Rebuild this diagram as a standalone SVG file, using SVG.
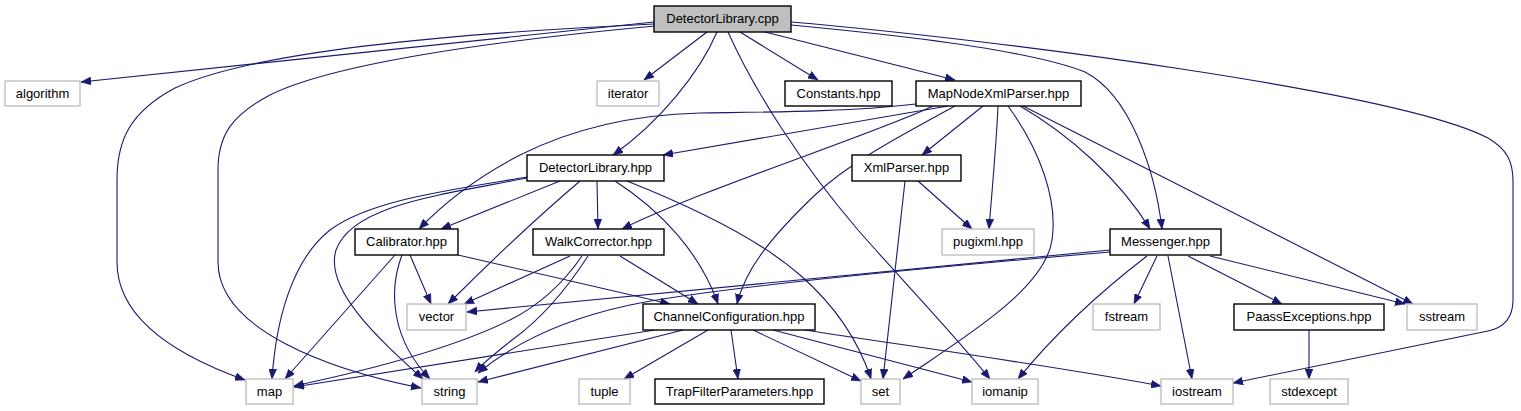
<svg xmlns="http://www.w3.org/2000/svg" width="1521" height="411" viewBox="0 0 1521 411">
<defs>
<marker id="ah" markerWidth="10" markerHeight="8" refX="10" refY="4" orient="auto" markerUnits="userSpaceOnUse">
<path d="M0,0 L10,4 L0,8 z" fill="#191970" stroke="#191970" stroke-width="0.5"/>
</marker>
</defs>
<style>
.n rect{fill:#fff;stroke:#000;stroke-width:1.4}
.n.sys rect{stroke:#bfbfbf}
.n.root rect{fill:#bfbfbf}
.n text{font-family:"Liberation Sans",Arial,sans-serif;font-size:13px;text-anchor:middle;fill:#000}
#edges path{fill:none;stroke:#191970;stroke-width:1.1;marker-end:url(#ah)}
</style>
<rect width="1521" height="411" fill="#fff"/>
<g id="edges">
<path d="M654,22 L81,82"/>
<path d="M654,24 C480,32 260,48 175,88 C130,112 117,140 117,180 L117,262 C117,318 175,355 245,380"/>
<path d="M655,26 C480,42 330,65 270,95 C232,115 218,135 218,170 L218,262 C218,330 330,370 421,388"/>
<path d="M707,32 L644,80"/>
<path d="M717,32 C700,72 660,122 613,155"/>
<path d="M728,32 C755,92 800,162 858,230 C900,278 952,332 990,379"/>
<path d="M740,32 L818,80"/>
<path d="M765,32 L955,80"/>
<path d="M791,25 C900,35 1030,50 1085,72 C1130,95 1155,170 1162,229"/>
<path d="M791,22 C1000,40 1400,92 1488,138 C1508,150 1513,162 1513,182 L1513,300 C1513,320 1502,328 1488,331 L1233,383"/>
<path d="M948,106 L663,155"/>
<path d="M916,104 C850,112 760,112 700,113 C620,115 560,135 520,155 C472,180 442,205 419,229"/>
<path d="M933,106 C880,132 700,190 622,229"/>
<path d="M955,106 C900,136 850,162 815,195 C770,238 745,270 737,304"/>
<path d="M983,106 L922,155"/>
<path d="M998,106 C996,150 992,190 989,229"/>
<path d="M1008,106 C1040,150 1058,200 1052,240 C1045,290 960,340 903,379"/>
<path d="M1020,106 C1070,135 1120,180 1150,229"/>
<path d="M1023,106 L1413,304"/>
<path d="M560,181 L441,229"/>
<path d="M597,181 L598,229"/>
<path d="M527,177 C450,190 370,200 330,230 C292,260 276,320 272,379"/>
<path d="M527,178 C440,195 352,205 336,250 C324,290 380,340 423,379"/>
<path d="M580,181 C540,215 500,252 448,304"/>
<path d="M615,181 C660,210 700,252 718,304"/>
<path d="M627,181 C700,210 760,240 800,275 C840,310 860,345 871,379"/>
<path d="M918,181 L972,229"/>
<path d="M905,181 L883,379"/>
<path d="M410,255 L431,304"/>
<path d="M395,255 L285,379"/>
<path d="M402,255 C388,292 392,340 430,379"/>
<path d="M458,255 L670,304"/>
<path d="M570,256 L464,304"/>
<path d="M582,256 C562,285 540,305 510,320 C450,350 360,372 294,386"/>
<path d="M588,256 C566,290 540,320 512,340 C497,352 484,362 475,372"/>
<path d="M620,256 L698,304"/>
<path d="M1110,250 L467,312"/>
<path d="M1110,252 C900,270 700,290 630,305 C560,320 512,345 478,373"/>
<path d="M1157,256 L1134,304"/>
<path d="M1147,256 C1100,292 1058,330 1018,379"/>
<path d="M1168,256 L1192,379"/>
<path d="M1188,256 L1282,304"/>
<path d="M1210,256 L1405,304"/>
<path d="M655,330 L294,387"/>
<path d="M683,330 L478,382"/>
<path d="M708,330 L624,379"/>
<path d="M731,330 L738,379"/>
<path d="M753,330 L861,381"/>
<path d="M773,330 L972,382"/>
<path d="M805,330 C900,345 1050,365 1161,386"/>
<path d="M1309,330 L1309,379"/>
</g>
<g id="n_cpp" class="n root"><rect x="654" y="6" width="137" height="26"/><text x="722.5" y="23">DetectorLibrary.cpp</text></g>
<g id="n_algorithm" class="n sys"><rect x="5" y="81" width="75" height="25"/><text x="42.5" y="98">algorithm</text></g>
<g id="n_iterator" class="n sys"><rect x="597" y="81" width="62" height="25"/><text x="628" y="98">iterator</text></g>
<g id="n_constants" class="n"><rect x="785" y="81" width="107" height="25"/><text x="838.5" y="98">Constants.hpp</text></g>
<g id="n_mapnode" class="n"><rect x="916" y="81" width="165" height="25"/><text x="998.5" y="98">MapNodeXmlParser.hpp</text></g>
<g id="n_dlhpp" class="n"><rect x="527" y="155" width="137" height="26"/><text x="595.5" y="172">DetectorLibrary.hpp</text></g>
<g id="n_xmlparser" class="n"><rect x="852" y="155" width="109" height="26"/><text x="906.5" y="172">XmlParser.hpp</text></g>
<g id="n_calibrator" class="n"><rect x="355" y="229" width="103" height="26"/><text x="406.5" y="246">Calibrator.hpp</text></g>
<g id="n_walk" class="n"><rect x="533" y="229" width="131" height="26"/><text x="598.5" y="246">WalkCorrector.hpp</text></g>
<g id="n_pugixml" class="n sys"><rect x="942" y="229" width="92" height="26"/><text x="988" y="246">pugixml.hpp</text></g>
<g id="n_messenger" class="n"><rect x="1110" y="229" width="111" height="26"/><text x="1165.5" y="246">Messenger.hpp</text></g>
<g id="n_vector" class="n sys"><rect x="407" y="304" width="59" height="26"/><text x="436.5" y="321">vector</text></g>
<g id="n_cc" class="n"><rect x="643" y="304" width="172" height="26"/><text x="729" y="321">ChannelConfiguration.hpp</text></g>
<g id="n_fstream" class="n sys"><rect x="1093" y="304" width="67" height="26"/><text x="1126.5" y="321">fstream</text></g>
<g id="n_paass" class="n"><rect x="1234" y="304" width="150" height="26"/><text x="1309" y="321">PaassExceptions.hpp</text></g>
<g id="n_sstream" class="n sys"><rect x="1407" y="304" width="70" height="26"/><text x="1442" y="321">sstream</text></g>
<g id="n_map" class="n sys"><rect x="246" y="379" width="47" height="25"/><text x="269.5" y="396">map</text></g>
<g id="n_string" class="n sys"><rect x="422" y="379" width="55" height="25"/><text x="449.5" y="396">string</text></g>
<g id="n_tuple" class="n sys"><rect x="579" y="379" width="51" height="25"/><text x="604.5" y="396">tuple</text></g>
<g id="n_trap" class="n"><rect x="655" y="379" width="169" height="25"/><text x="739.5" y="396">TrapFilterParameters.hpp</text></g>
<g id="n_set" class="n sys"><rect x="861" y="379" width="39" height="25"/><text x="880.5" y="396">set</text></g>
<g id="n_iomanip" class="n sys"><rect x="972" y="379" width="66" height="25"/><text x="1005" y="396">iomanip</text></g>
<g id="n_iostream" class="n sys"><rect x="1161" y="379" width="72" height="25"/><text x="1197" y="396">iostream</text></g>
<g id="n_stdexcept" class="n sys"><rect x="1270" y="379" width="78" height="25"/><text x="1309" y="396">stdexcept</text></g>
</svg>
